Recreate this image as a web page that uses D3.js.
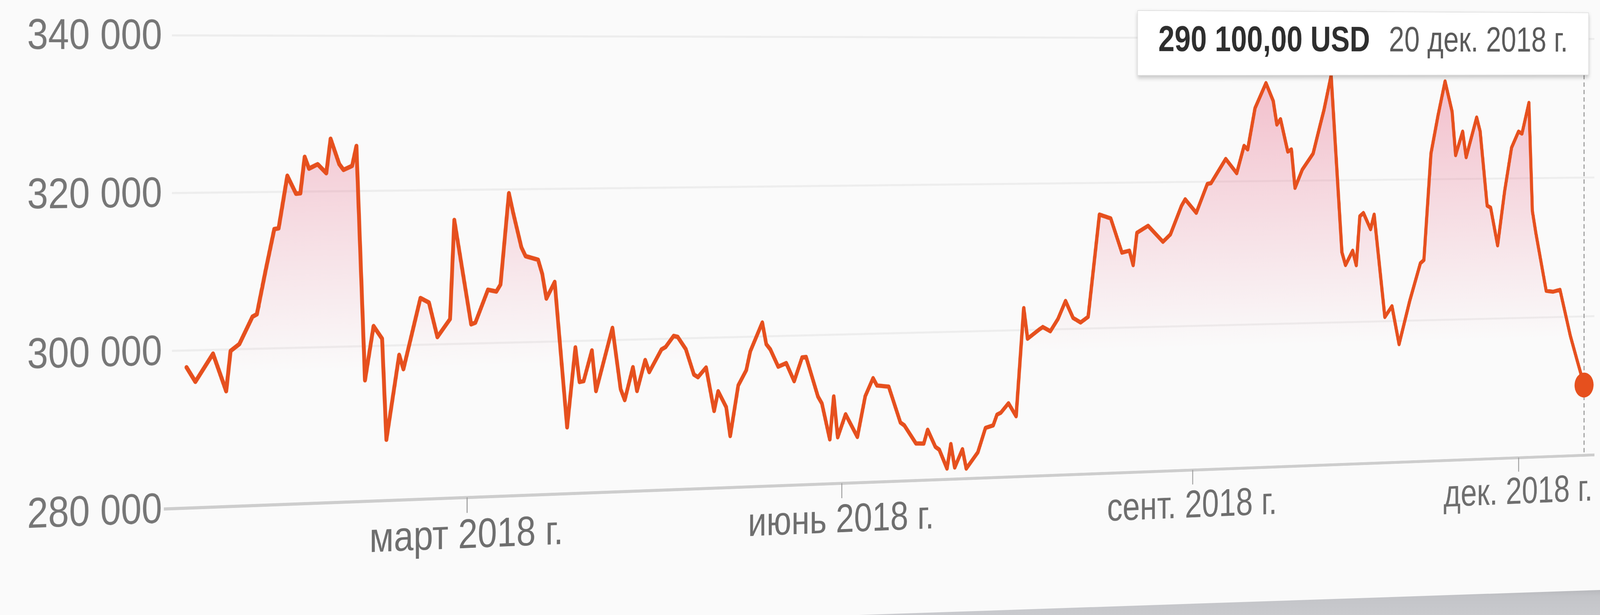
<!DOCTYPE html>
<html lang="ru">
<head>
<meta charset="utf-8">
<title>290 100,00 USD</title>
<script src="https://cdn.jsdelivr.net/npm/d3@7.9.0/dist/d3.min.js"></script>
<style>
  html, body { margin: 0; padding: 0; }
  body { width: 100vw; height: 100vh; overflow: hidden; background: #fafafa; position: relative; }
  #chart { position: absolute; left: 0; top: 0; transform-origin: 0 0; }
  #edge { position: absolute; left: 0; top: 0; width: 100vw; height: 100vh; }
</style>
</head>
<body>
<div id="chart"></div>
<svg id="edge"></svg>
<script>
// price series
const dates = [
  "2017-12-26","2017-12-28","2018-01-01","2018-01-04","2018-01-05","2018-01-07","2018-01-10","2018-01-11","2018-01-13","2018-01-15",
  "2018-01-16","2018-01-18","2018-01-20","2018-01-21","2018-01-22","2018-01-23","2018-01-25","2018-01-27","2018-01-28","2018-01-30",
  "2018-01-31","2018-02-02","2018-02-03","2018-02-05","2018-02-07","2018-02-09","2018-02-10","2018-02-13","2018-02-14","2018-02-18",
  "2018-02-20","2018-02-22","2018-02-25","2018-02-26","2018-03-02","2018-03-03","2018-03-06","2018-03-08","2018-03-09","2018-03-11",
  "2018-03-12","2018-03-14","2018-03-15","2018-03-18","2018-03-19","2018-03-20","2018-03-22","2018-03-25","2018-03-27","2018-03-28",
  "2018-03-29","2018-03-31","2018-04-01","2018-04-05","2018-04-07","2018-04-08","2018-04-10","2018-04-11","2018-04-13","2018-04-14",
  "2018-04-17","2018-04-18","2018-04-20","2018-04-21","2018-04-23","2018-04-25","2018-04-26","2018-04-28","2018-04-30","2018-05-01",
  "2018-05-03","2018-05-04","2018-05-06","2018-05-08","2018-05-09","2018-05-12","2018-05-13","2018-05-14","2018-05-16","2018-05-18",
  "2018-05-20","2018-05-22","2018-05-23","2018-05-26","2018-05-27","2018-05-29","2018-05-30","2018-05-31","2018-06-02","2018-06-05",
  "2018-06-07","2018-06-09","2018-06-10","2018-06-13","2018-06-16","2018-06-17","2018-06-20","2018-06-22","2018-06-23","2018-06-25",
  "2018-06-26","2018-06-28","2018-06-29","2018-06-30","2018-07-02","2018-07-03","2018-07-06","2018-07-08","2018-07-10","2018-07-11",
  "2018-07-12","2018-07-14","2018-07-16","2018-07-18","2018-07-19","2018-07-22","2018-07-23","2018-07-25","2018-07-27","2018-07-29",
  "2018-07-31","2018-08-02","2018-08-04","2018-08-07","2018-08-10","2018-08-13","2018-08-15","2018-08-16","2018-08-17","2018-08-20",
  "2018-08-24","2018-08-26","2018-08-29","2018-08-30","2018-09-02","2018-09-05","2018-09-06","2018-09-10","2018-09-13","2018-09-15",
  "2018-09-16","2018-09-18","2018-09-21","2018-09-23","2018-09-24","2018-09-25","2018-09-27","2018-09-28","2018-09-29","2018-10-01",
  "2018-10-04","2018-10-06","2018-10-07","2018-10-09","2018-10-12","2018-10-13","2018-10-15","2018-10-16","2018-10-17","2018-10-18",
  "2018-10-20","2018-10-21","2018-10-24","2018-10-26","2018-10-28","2018-10-31","2018-11-03","2018-11-04","2018-11-06","2018-11-08",
  "2018-11-10","2018-11-12","2018-11-13","2018-11-15","2018-11-16","2018-11-19","2018-11-20","2018-11-22","2018-11-23","2018-11-25",
  "2018-11-27","2018-11-29","2018-12-01","2018-12-02","2018-12-04","2018-12-05","2018-12-06","2018-12-09","2018-12-11","2018-12-13",
  "2018-12-16","2018-12-18","2018-12-20"
];
const prices = [
  297850, 296000, 299500, 294700, 299800, 300650, 304100, 304400, 309950, 315250,
  315350, 322050, 319750, 319800, 324450, 322950, 323500, 322350, 326750, 323500,
  322750, 323250, 325800, 295600, 302550, 300900, 287850, 298750, 296900, 306050,
  305450, 300950, 303250, 316100, 302500, 302700, 306950, 306700, 307600, 319500,
  317000, 312400, 311250, 310750, 308900, 305650, 307800, 288700, 299150, 294600,
  294700, 298700, 293350, 301600, 293500, 292050, 296350, 293200, 297250, 295650,
  298600, 298900, 300350, 300200, 298550, 295150, 294800, 296050, 290250, 292850,
  290700, 286850, 293550, 295550, 298050, 301850, 298950, 298250, 295900, 296350,
  293900, 297050, 297100, 291750, 290800, 285950, 291700, 286200, 289250, 286150,
  291600, 294000, 293000, 292800, 287900, 287500, 285000, 284950, 286800, 284450,
  284050, 281450, 284750, 281550, 284000, 281350, 283500, 286800, 287100, 288550,
  288800, 290050, 288250, 303000, 298800, 300000, 300350, 299750, 301400, 303850,
  301500, 300850, 301600, 315650, 315100, 310350, 310600, 308600, 313050, 314000,
  311750, 312750, 316700, 317600, 315700, 319700, 319800, 323150, 321150, 324950,
  324450, 330200, 333700, 331200, 327900, 328650, 324100, 324400, 319000, 321550,
  323800, 327900, 329900, 334750, 309850, 308050, 310050, 308000, 314900, 315350,
  313050, 315100, 300600, 302100, 296700, 302800, 308100, 308550, 323650, 329050,
  333900, 329600, 323400, 326750, 323100, 328750, 326750, 316150, 315850, 310450,
  318150, 324400, 326700, 326400, 330800, 315300, 312150, 303800, 303650, 303900,
  297250, 293650, 290100
];
const yTicks = [280000, 300000, 320000, 340000];
const xTickDates = ["2018-03-01", "2018-06-01", "2018-09-01", "2018-12-01"];
const monthsShort = ["янв.", "февр.", "март", "апр.", "май", "июнь", "июль", "авг.", "сент.", "окт.", "нояб.", "дек."];
const xDomain = ["2017-12-20T20:00:00Z", "2018-12-23T00:00:00Z"];
const yDomain = [280000, 340000];

// the chart is photographed at an angle: flat plot corners -> photo pixels (tl, tr, br, bl)
const photoW = 4526, photoH = 1574;
const corners = [[463, 100], [4510, 110], [4510, 1286], [463, 1439]];
// the grey strip under the card, bottom right of the photo
const edgePoly = [[2429, 1574], [4526, 1510], [4526, 1574]];

const PL = 700, PT = 400, FW = 5296, FH = 1339;
const SW = PL + FW + 400, SH = PT + FH + 600;

const data = dates.map((d, i) => ({ date: new Date(d + 'T00:00:00Z'), value: prices[i] }));
const last = data[data.length - 1];

const locale = d3.formatLocale({ decimal: ',', thousands: ' ', grouping: [3], currency: ['', ' USD'] });
const fmtAxis = locale.format(',.0f');
const fmtPrice = locale.format('$,.2f');
const fmtDate = (d) => `${d.getUTCDate()} ${monthsShort[d.getUTCMonth()]} ${d.getUTCFullYear()} г.`;
const fmtTick = (d) => `${monthsShort[d.getUTCMonth()]} ${d.getUTCFullYear()} г.`;

const fontFamily = '"Liberation Sans", Arial, sans-serif';

const x = d3.scaleUtc().domain(xDomain.map((d) => new Date(d))).range([PL, PL + FW]);
const y = d3.scaleLinear().domain(yDomain).range([PT + FH, PT]);

const svg = d3.select('#chart')
  .style('width', SW + 'px')
  .style('height', SH + 'px')
  .append('svg')
  .attr('width', SW)
  .attr('height', SH)
  .attr('font-family', fontFamily);

const defs = svg.append('defs');
const grad = defs.append('linearGradient')
  .attr('id', 'areaFill')
  .attr('gradientUnits', 'userSpaceOnUse')
  .attr('x1', 0).attr('x2', 0)
  .attr('y1', y(340000)).attr('y2', y(297000));
grad.append('stop').attr('offset', 0).attr('stop-color', '#e8718e').attr('stop-opacity', 0.5);
grad.append('stop').attr('offset', 1).attr('stop-color', '#e8718e').attr('stop-opacity', 0);

const shadow = defs.append('filter').attr('id', 'tipShadow')
  .attr('x', '-10%').attr('y', '-30%').attr('width', '120%').attr('height', '170%');
shadow.append('feDropShadow')
  .attr('dx', 0).attr('dy', 7).attr('stdDeviation', 7)
  .attr('flood-color', '#000').attr('flood-opacity', 0.22);

svg.append('rect').attr('width', SW).attr('height', SH).attr('fill', '#fafafa');

// gridlines
svg.append('g')
  .selectAll('line')
  .data(yTicks.filter((d) => d !== yDomain[0]))
  .join('line')
  .attr('x1', PL + 27)
  .attr('x2', PL + FW)
  .attr('y1', (d) => y(d))
  .attr('y2', (d) => y(d))
  .attr('stroke', '#ededed')
  .attr('stroke-width', 6);

// area under the line
const area = d3.area()
  .x((d) => x(d.date))
  .y0(y(yDomain[0]))
  .y1((d) => y(d.value));

svg.append('path')
  .datum(data)
  .attr('d', area)
  .attr('fill', 'url(#areaFill)');

// x axis
svg.append('g')
  .attr('transform', `translate(0,${y(yDomain[0])})`)
  .call(
    d3.axisBottom(x)
      .tickValues(xTickDates.map((d) => new Date(d + 'T00:00:00Z')))
      .tickSize(45)
      .tickSizeOuter(0)
      .tickPadding(17)
      .tickFormat(fmtTick),
  )
  .attr('font-size', 120)
  .attr('font-family', fontFamily)
  .call((g) => g.select('.domain').attr('stroke', '#cdcdcd').attr('stroke-width', 9))
  .call((g) => g.selectAll('.tick line').attr('stroke', '#9e9e9e').attr('stroke-width', 3.5))
  .call((g) => g.selectAll('.tick text').attr('fill', '#6e6e6e'));

// y axis labels
svg.append('g')
  .attr('transform', `translate(${PL},0)`)
  .call(d3.axisLeft(y).tickValues(yTicks).tickSize(0).tickPadding(5).tickFormat(fmtAxis))
  .attr('font-size', 120)
  .attr('font-family', fontFamily)
  .call((g) => g.select('.domain').remove())
  .call((g) => g.selectAll('.tick text').attr('fill', '#767676'));

// price line
const line = d3.line()
  .x((d) => x(d.date))
  .y((d) => y(d.value));

svg.append('path')
  .datum(data)
  .attr('d', line)
  .attr('fill', 'none')
  .attr('stroke', '#e6501e')
  .attr('stroke-width', 13)
  .attr('stroke-linejoin', 'round')
  .attr('stroke-linecap', 'round');

// hover marker
const hx = x(last.date);
const tipTop = PT - 84;
const tipBottom = PT + 116;

svg.append('line')
  .attr('x1', hx).attr('x2', hx)
  .attr('y1', tipBottom).attr('y2', y(yDomain[0]))
  .attr('stroke', '#8c8c8c')
  .attr('stroke-width', 3.5)
  .attr('stroke-dasharray', '14,10');

svg.append('circle')
  .attr('cx', hx)
  .attr('cy', y(last.value))
  .attr('r', 40)
  .attr('fill', '#e6501e');

// tooltip, laid out against the hover line
const tip = svg.append('g');
tip.append('rect')
  .attr('x', hx - 1800)
  .attr('y', tipTop)
  .attr('width', 1819)
  .attr('height', tipBottom - tipTop)
  .attr('fill', '#ffffff')
  .attr('stroke', '#dedede')
  .attr('stroke-width', 2)
  .attr('filter', 'url(#tipShadow)');
tip.append('text')
  .attr('x', hx - 1720)
  .attr('y', PT + 41)
  .attr('font-size', 112)
  .attr('font-weight', 'bold')
  .attr('fill', '#2e2e2e')
  .attr('textLength', 838)
  .attr('lengthAdjust', 'spacingAndGlyphs')
  .text(fmtPrice(last.value));
tip.append('text')
  .attr('x', hx - 806)
  .attr('y', PT + 41)
  .attr('font-size', 112)
  .attr('fill', '#5a5a5a')
  .attr('textLength', 738)
  .attr('lengthAdjust', 'spacingAndGlyphs')
  .text(fmtDate(last.date));

// perspective: homography from the flat plot to the photographed quad
function squareToQuad(q) {
  const [[x0, y0], [x1, y1], [x2, y2], [x3, y3]] = q;
  const dx1 = x1 - x2, dx2 = x3 - x2, dx3 = x0 - x1 + x2 - x3;
  const dy1 = y1 - y2, dy2 = y3 - y2, dy3 = y0 - y1 + y2 - y3;
  const den = dx1 * dy2 - dx2 * dy1;
  const g = (dx3 * dy2 - dx2 * dy3) / den;
  const h = (dx1 * dy3 - dx3 * dy1) / den;
  return [
    [x1 - x0 + g * x1, x3 - x0 + h * x3, x0],
    [y1 - y0 + g * y1, y3 - y0 + h * y3, y0],
    [g, h, 1],
  ];
}

// photo pixels -> css pixels (the window may not be at device scale 1)
const s = window.innerWidth / photoW;
const H = squareToQuad(corners.map(([a, b]) => [a * s, b * s]));
const M = H.map((r) => [r[0] / FW, r[1] / FH, r[2] - (r[0] * PL) / FW - (r[1] * PT) / FH]);
const m3d = [
  M[0][0], M[1][0], 0, M[2][0],
  M[0][1], M[1][1], 0, M[2][1],
  0, 0, 1, 0,
  M[0][2], M[1][2], 0, M[2][2],
];
d3.select('#chart').style('transform', `matrix3d(${m3d.join(',')})`);

// grey strip below the card
const edgeSvg = d3.select('#edge')
  .attr('viewBox', `0 0 ${photoW} ${photoH}`)
  .attr('preserveAspectRatio', 'none');
const eg = edgeSvg.append('defs').append('linearGradient')
  .attr('id', 'edgeFill').attr('x1', 0).attr('x2', 0).attr('y1', 0).attr('y2', 1);
eg.append('stop').attr('offset', 0).attr('stop-color', '#b8b9bd');
eg.append('stop').attr('offset', 0.25).attr('stop-color', '#c3c4c8');
eg.append('stop').attr('offset', 1).attr('stop-color', '#c9cace');
edgeSvg.append('polygon')
  .attr('points', edgePoly.map((p) => p.join(',')).join(' '))
  .attr('fill', 'url(#edgeFill)');
</script>
</body>
</html>
